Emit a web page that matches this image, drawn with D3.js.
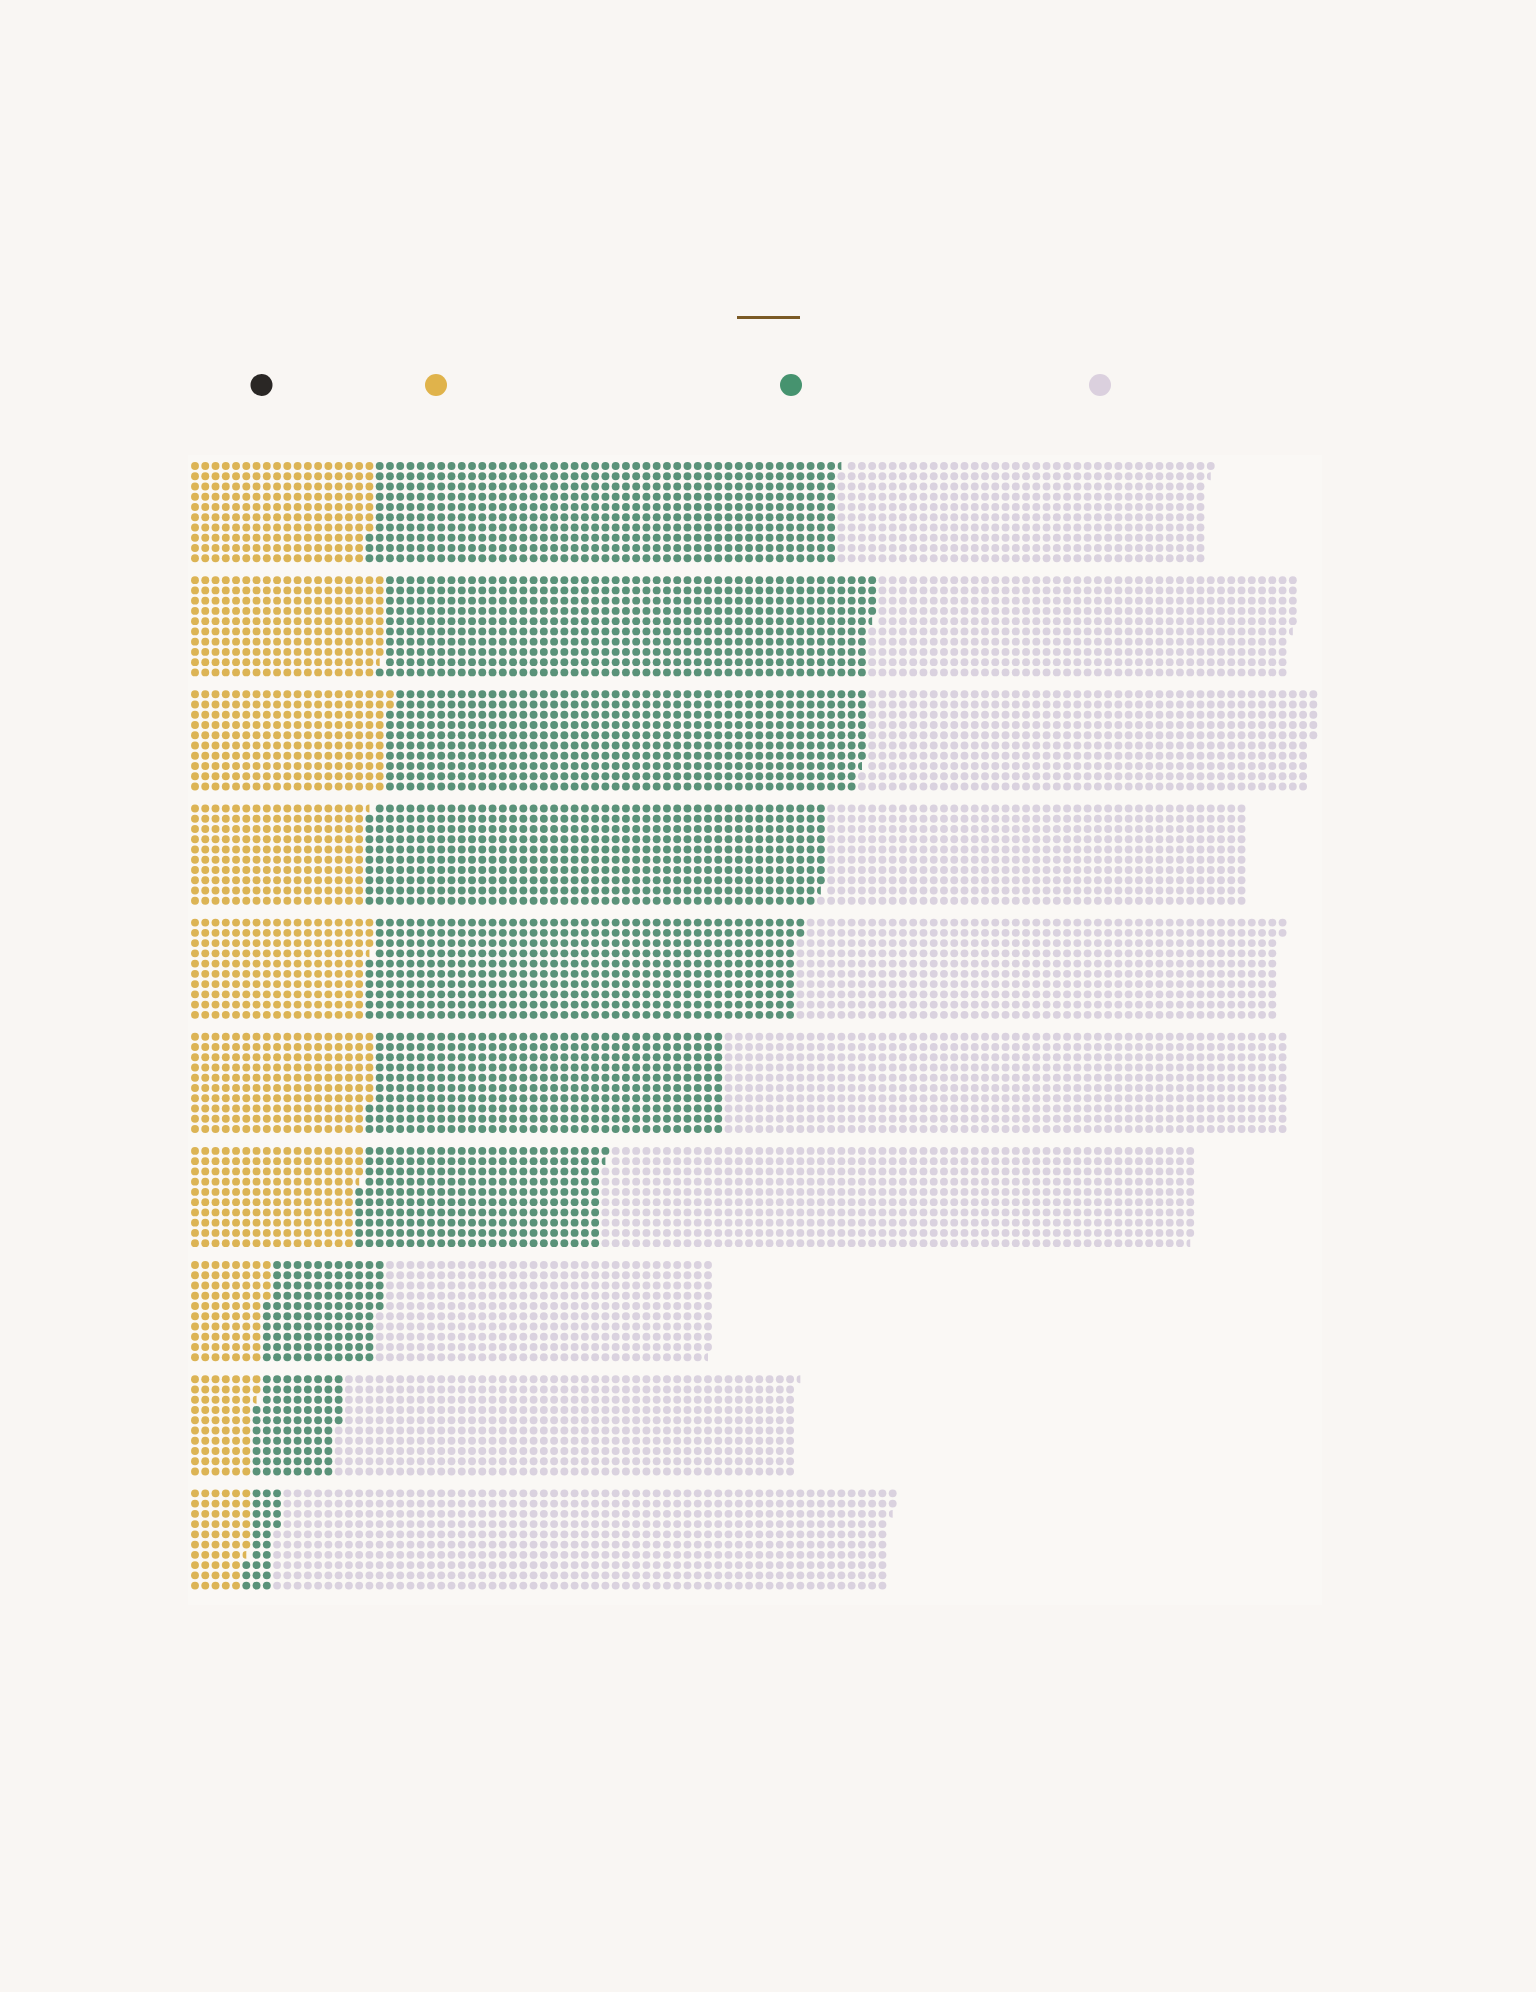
<!DOCTYPE html>
<html>
<head>
<meta charset="utf-8">
<script src="https://cdn.jsdelivr.net/npm/d3@7"></script>
<style>
  html, body { margin: 0; padding: 0; background: #f9f6f3; }
  svg { display: block; }
</style>
</head>
<body>
<svg id="chart" width="1536" height="1992"></svg>
<script>
// ---- data (one dot = one unit, ten dots per column) ----
const categories = ["Row 1","Row 2","Row 3","Row 4","Row 5","Row 6","Row 7","Row 8","Row 9","Row 10"];
const seriesNames = ["Black", "Gold", "Green", "Lilac"];
const blackValues = [0, 0, 0, 0, 0, 0, 0, 0, 0, 0];
const goldValues  = [177, 188.5, 192, 170.5, 173.5, 177, 163.5, 74, 62.5, 56.5];
const greenValues = [453.5, 476, 465.5, 448, 418.5, 343, 238, 111, 82.5, 27.5];
const lilacValues = [361, 411, 437.5, 411.5, 470, 550, 578, 324.5, 445.5, 598.5];

const legendColors = ["#2a2725", "#e0b34b", "#46936f", "#dbd0de"];
const dotColors    = ["#2a2725", "#dcb455", "#5a9279", "#dad2df"];

const svg = d3.select("#chart");
const W = 1536, H = 1992;

svg.append("rect").attr("width", W).attr("height", H).attr("fill", "#f9f6f3");
// faint panel behind the dot bars
svg.append("rect").attr("x", 188).attr("y", 455).attr("width", 1134).attr("height", 1150)
  .attr("fill", "#faf8f5");

// title rule
svg.append("line").attr("x1", 737).attr("x2", 800).attr("y1", 317.5).attr("y2", 317.5)
  .attr("stroke", "#7b5a25").attr("stroke-width", 3);

// legend dots
const legendPos = [261.5, 436, 791, 1100];
svg.append("g").selectAll("circle").data(seriesNames).join("circle")
  .attr("cx", (d, i) => legendPos[i])
  .attr("cy", 385)
  .attr("r", 11)
  .attr("fill", (d, i) => legendColors[i]);

// scales
const ROWS = 10;
const colStep = 10.26;
const x = d3.scaleLinear().domain([0, 110]).range([195, 195 + 110 * colStep]);
const yRow = d3.scaleLinear().domain([0, ROWS - 1]).range([0, 9 * 10.25]);
const yBar = d3.scalePoint().domain(categories).range([466, 466 + 9 * 114.15]);
const R = 3.95;

const series = [blackValues, goldValues, greenValues, lilacValues];

const dots = [];
categories.forEach((cat, bi) => {
  let cum = 0;
  series.forEach((vals, si) => {
    const s = cum, e = cum + vals[bi];
    cum = e;
    const first = Math.ceil(s), last = Math.ceil(e) - 1;
    for (let i = first; i <= last; i++) {
      const frac = (i === Math.floor(e) && e % 1 !== 0) ? e - Math.floor(e) : 1;
      dots.push({cat, si, col: Math.floor(i / ROWS), row: i % ROWS, frac});
    }
  });
});

const defs = svg.append("defs");
const g = svg.append("g");
dots.forEach((d, k) => {
  const cx = x(d.col), cy = yBar(d.cat) + yRow(d.row);
  const c = g.append("circle").attr("cx", cx).attr("cy", cy).attr("r", R)
    .attr("fill", dotColors[d.si]);
  if (d.frac < 1) {
    const id = "clip" + k;
    defs.append("clipPath").attr("id", id).append("rect")
      .attr("x", cx - R).attr("y", cy - R - 1)
      .attr("width", 2 * R * d.frac).attr("height", 2 * R + 2);
    c.attr("clip-path", `url(#${id})`);
  }
});
</script>
</body>
</html>
